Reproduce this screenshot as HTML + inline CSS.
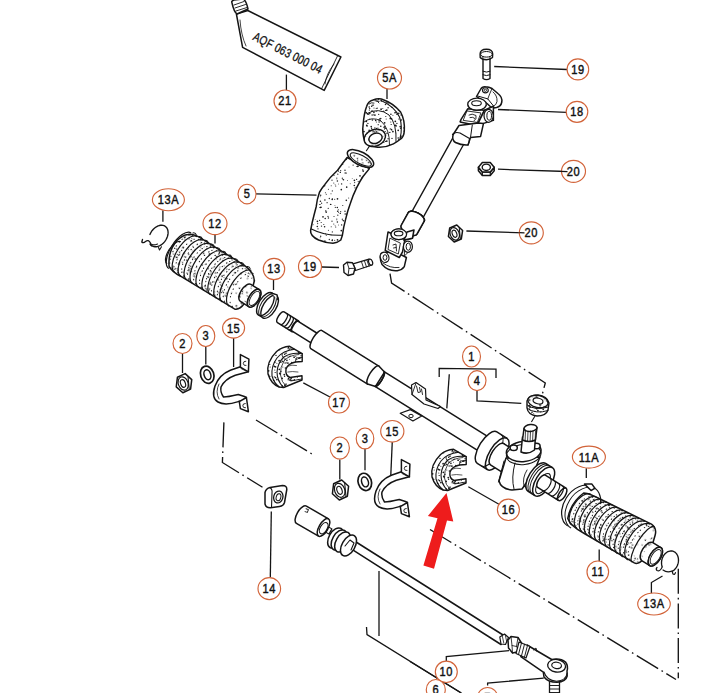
<!DOCTYPE html>
<html><head><meta charset="utf-8"><style>
html,body{margin:0;padding:0;background:#fff;}
svg{display:block;}
text{font-family:"Liberation Sans",sans-serif;fill:#111;}
</style></head><body>
<svg width="712" height="693" viewBox="0 0 712 693">
<defs>
<pattern id="st" width="37" height="41" patternUnits="userSpaceOnUse">
<rect width="37" height="41" fill="#fff"/>
<circle cx="12.0" cy="6.2" r="0.71" fill="#1a1a1a"/><circle cx="2.7" cy="22.0" r="0.60" fill="#1a1a1a"/><circle cx="2.1" cy="20.8" r="0.46" fill="#1a1a1a"/><circle cx="16.0" cy="2.9" r="0.49" fill="#1a1a1a"/><circle cx="15.7" cy="33.9" r="0.50" fill="#1a1a1a"/><circle cx="8.3" cy="25.7" r="0.83" fill="#1a1a1a"/><circle cx="21.4" cy="16.3" r="0.84" fill="#1a1a1a"/><circle cx="1.7" cy="35.2" r="0.57" fill="#1a1a1a"/><circle cx="5.3" cy="4.8" r="0.57" fill="#1a1a1a"/><circle cx="30.2" cy="7.4" r="0.68" fill="#1a1a1a"/><circle cx="23.6" cy="15.3" r="0.67" fill="#1a1a1a"/><circle cx="2.3" cy="2.4" r="0.53" fill="#1a1a1a"/><circle cx="25.2" cy="17.5" r="0.58" fill="#1a1a1a"/><circle cx="21.7" cy="18.6" r="0.57" fill="#1a1a1a"/><circle cx="29.4" cy="28.7" r="0.55" fill="#1a1a1a"/><circle cx="21.3" cy="21.5" r="0.80" fill="#1a1a1a"/><circle cx="27.0" cy="11.8" r="0.84" fill="#1a1a1a"/><circle cx="4.4" cy="17.1" r="0.75" fill="#1a1a1a"/><circle cx="5.6" cy="20.0" r="0.47" fill="#1a1a1a"/><circle cx="24.7" cy="31.3" r="0.68" fill="#1a1a1a"/><circle cx="32.4" cy="12.9" r="0.73" fill="#1a1a1a"/><circle cx="22.0" cy="23.8" r="0.63" fill="#1a1a1a"/><circle cx="31.1" cy="38.7" r="0.64" fill="#1a1a1a"/><circle cx="24.6" cy="2.5" r="0.73" fill="#1a1a1a"/><circle cx="23.9" cy="40.7" r="0.78" fill="#1a1a1a"/><circle cx="10.5" cy="15.8" r="0.72" fill="#1a1a1a"/><circle cx="0.8" cy="18.9" r="0.52" fill="#1a1a1a"/><circle cx="4.3" cy="2.4" r="0.76" fill="#1a1a1a"/><circle cx="4.8" cy="10.2" r="0.61" fill="#1a1a1a"/><circle cx="32.2" cy="3.3" r="0.63" fill="#1a1a1a"/><circle cx="20.3" cy="36.2" r="0.78" fill="#1a1a1a"/><circle cx="32.0" cy="11.4" r="0.62" fill="#1a1a1a"/><circle cx="13.3" cy="36.3" r="0.83" fill="#1a1a1a"/><circle cx="5.6" cy="7.2" r="0.54" fill="#1a1a1a"/><circle cx="8.6" cy="19.9" r="0.69" fill="#1a1a1a"/><circle cx="9.7" cy="0.2" r="0.62" fill="#1a1a1a"/><circle cx="13.7" cy="23.2" r="0.83" fill="#1a1a1a"/><circle cx="25.5" cy="21.1" r="0.70" fill="#1a1a1a"/><circle cx="25.0" cy="2.2" r="0.81" fill="#1a1a1a"/><circle cx="28.9" cy="35.9" r="0.77" fill="#1a1a1a"/><circle cx="14.5" cy="16.4" r="0.49" fill="#1a1a1a"/><circle cx="23.5" cy="2.6" r="0.48" fill="#1a1a1a"/><circle cx="7.7" cy="6.7" r="0.59" fill="#1a1a1a"/><circle cx="1.9" cy="0.0" r="0.51" fill="#1a1a1a"/><circle cx="3.8" cy="14.9" r="0.46" fill="#1a1a1a"/><circle cx="32.4" cy="25.2" r="0.51" fill="#1a1a1a"/><circle cx="9.3" cy="14.2" r="0.60" fill="#1a1a1a"/><circle cx="4.5" cy="34.8" r="0.85" fill="#1a1a1a"/><circle cx="17.2" cy="19.8" r="0.48" fill="#1a1a1a"/><circle cx="3.8" cy="14.0" r="0.56" fill="#1a1a1a"/><circle cx="30.7" cy="6.6" r="0.46" fill="#1a1a1a"/><circle cx="35.2" cy="21.7" r="0.51" fill="#1a1a1a"/><circle cx="20.1" cy="1.1" r="0.66" fill="#1a1a1a"/><circle cx="36.2" cy="35.4" r="0.73" fill="#1a1a1a"/><circle cx="9.7" cy="15.0" r="0.52" fill="#1a1a1a"/><circle cx="28.6" cy="21.8" r="0.76" fill="#1a1a1a"/><circle cx="12.2" cy="9.1" r="0.77" fill="#1a1a1a"/><circle cx="36.4" cy="35.0" r="0.77" fill="#1a1a1a"/><circle cx="30.3" cy="30.3" r="0.54" fill="#1a1a1a"/><circle cx="19.2" cy="14.6" r="0.46" fill="#1a1a1a"/><circle cx="1.0" cy="11.5" r="0.55" fill="#1a1a1a"/><circle cx="25.6" cy="39.2" r="0.63" fill="#1a1a1a"/><circle cx="34.7" cy="40.5" r="0.83" fill="#1a1a1a"/><circle cx="13.5" cy="9.0" r="0.54" fill="#1a1a1a"/><circle cx="7.3" cy="8.4" r="0.70" fill="#1a1a1a"/><circle cx="33.3" cy="34.5" r="0.64" fill="#1a1a1a"/><circle cx="24.2" cy="32.8" r="0.48" fill="#1a1a1a"/><circle cx="24.4" cy="37.3" r="0.76" fill="#1a1a1a"/><circle cx="27.8" cy="19.6" r="0.52" fill="#1a1a1a"/><circle cx="29.2" cy="13.6" r="0.77" fill="#1a1a1a"/><circle cx="36.0" cy="16.2" r="0.61" fill="#1a1a1a"/><circle cx="35.0" cy="29.7" r="0.52" fill="#1a1a1a"/><circle cx="4.7" cy="6.2" r="0.81" fill="#1a1a1a"/><circle cx="29.8" cy="6.0" r="0.78" fill="#1a1a1a"/><circle cx="36.3" cy="26.9" r="0.59" fill="#1a1a1a"/>
</pattern>
<pattern id="st3" width="41" height="43" patternUnits="userSpaceOnUse">
<rect width="41" height="43" fill="#fff"/>
<circle cx="22.5" cy="5.6" r="0.45" fill="#1a1a1a"/><circle cx="39.8" cy="27.9" r="0.63" fill="#1a1a1a"/><circle cx="38.3" cy="18.7" r="0.76" fill="#1a1a1a"/><circle cx="33.9" cy="9.1" r="0.54" fill="#1a1a1a"/><circle cx="12.0" cy="10.3" r="0.66" fill="#1a1a1a"/><circle cx="10.6" cy="18.0" r="0.50" fill="#1a1a1a"/><circle cx="37.3" cy="15.2" r="0.61" fill="#1a1a1a"/><circle cx="23.9" cy="38.9" r="0.60" fill="#1a1a1a"/><circle cx="37.6" cy="21.6" r="0.64" fill="#1a1a1a"/><circle cx="21.5" cy="0.8" r="0.60" fill="#1a1a1a"/><circle cx="7.5" cy="0.2" r="0.73" fill="#1a1a1a"/><circle cx="7.1" cy="20.4" r="0.70" fill="#1a1a1a"/><circle cx="22.8" cy="14.0" r="0.63" fill="#1a1a1a"/><circle cx="22.8" cy="33.7" r="0.49" fill="#1a1a1a"/><circle cx="23.0" cy="10.7" r="0.55" fill="#1a1a1a"/><circle cx="31.7" cy="21.8" r="0.65" fill="#1a1a1a"/><circle cx="31.2" cy="39.2" r="0.61" fill="#1a1a1a"/><circle cx="25.1" cy="21.7" r="0.63" fill="#1a1a1a"/><circle cx="28.4" cy="19.5" r="0.64" fill="#1a1a1a"/><circle cx="19.6" cy="40.5" r="0.69" fill="#1a1a1a"/><circle cx="35.9" cy="40.5" r="0.54" fill="#1a1a1a"/><circle cx="22.9" cy="40.6" r="0.74" fill="#1a1a1a"/><circle cx="5.6" cy="5.2" r="0.60" fill="#1a1a1a"/><circle cx="3.0" cy="10.3" r="0.48" fill="#1a1a1a"/><circle cx="27.4" cy="33.7" r="0.76" fill="#1a1a1a"/><circle cx="6.3" cy="30.8" r="0.68" fill="#1a1a1a"/><circle cx="5.9" cy="38.0" r="0.79" fill="#1a1a1a"/><circle cx="9.0" cy="41.0" r="0.59" fill="#1a1a1a"/><circle cx="20.0" cy="42.6" r="0.74" fill="#1a1a1a"/><circle cx="6.6" cy="18.6" r="0.63" fill="#1a1a1a"/><circle cx="13.9" cy="8.4" r="0.56" fill="#1a1a1a"/><circle cx="29.6" cy="0.8" r="0.64" fill="#1a1a1a"/><circle cx="18.1" cy="0.8" r="0.57" fill="#1a1a1a"/><circle cx="25.6" cy="22.0" r="0.47" fill="#1a1a1a"/><circle cx="40.4" cy="33.9" r="0.79" fill="#1a1a1a"/><circle cx="4.3" cy="11.4" r="0.46" fill="#1a1a1a"/><circle cx="31.9" cy="11.6" r="0.50" fill="#1a1a1a"/><circle cx="17.3" cy="39.2" r="0.74" fill="#1a1a1a"/><circle cx="10.6" cy="6.4" r="0.77" fill="#1a1a1a"/><circle cx="23.4" cy="30.1" r="0.48" fill="#1a1a1a"/>
</pattern>
<pattern id="st2" width="29" height="31" patternUnits="userSpaceOnUse">
<rect width="29" height="31" fill="#fff"/>
<circle cx="1.7" cy="21.3" r="0.67" fill="#1a1a1a"/><circle cx="2.1" cy="29.1" r="0.75" fill="#1a1a1a"/><circle cx="23.2" cy="2.6" r="0.84" fill="#1a1a1a"/><circle cx="1.9" cy="26.7" r="0.68" fill="#1a1a1a"/><circle cx="9.8" cy="17.1" r="0.87" fill="#1a1a1a"/><circle cx="7.8" cy="4.0" r="0.71" fill="#1a1a1a"/><circle cx="6.9" cy="3.4" r="0.56" fill="#1a1a1a"/><circle cx="1.5" cy="6.3" r="0.62" fill="#1a1a1a"/><circle cx="8.8" cy="23.5" r="0.62" fill="#1a1a1a"/><circle cx="14.5" cy="5.5" r="0.64" fill="#1a1a1a"/><circle cx="0.5" cy="7.8" r="0.51" fill="#1a1a1a"/><circle cx="21.3" cy="17.1" r="0.58" fill="#1a1a1a"/><circle cx="13.8" cy="29.0" r="0.54" fill="#1a1a1a"/><circle cx="23.7" cy="13.4" r="0.70" fill="#1a1a1a"/><circle cx="24.2" cy="12.2" r="0.70" fill="#1a1a1a"/><circle cx="19.9" cy="30.5" r="0.64" fill="#1a1a1a"/><circle cx="24.1" cy="21.9" r="0.75" fill="#1a1a1a"/><circle cx="11.7" cy="10.8" r="0.52" fill="#1a1a1a"/><circle cx="3.8" cy="2.2" r="0.80" fill="#1a1a1a"/><circle cx="7.4" cy="5.1" r="0.53" fill="#1a1a1a"/><circle cx="24.4" cy="27.0" r="0.77" fill="#1a1a1a"/><circle cx="8.2" cy="7.5" r="0.62" fill="#1a1a1a"/><circle cx="13.3" cy="4.9" r="0.68" fill="#1a1a1a"/><circle cx="7.6" cy="29.8" r="0.89" fill="#1a1a1a"/><circle cx="15.9" cy="7.6" r="0.89" fill="#1a1a1a"/><circle cx="9.0" cy="11.1" r="0.50" fill="#1a1a1a"/><circle cx="11.1" cy="14.7" r="0.70" fill="#1a1a1a"/><circle cx="5.8" cy="15.6" r="0.50" fill="#1a1a1a"/><circle cx="7.7" cy="2.8" r="0.66" fill="#1a1a1a"/><circle cx="1.2" cy="0.7" r="0.62" fill="#1a1a1a"/><circle cx="6.8" cy="18.2" r="0.71" fill="#1a1a1a"/><circle cx="21.8" cy="20.4" r="0.79" fill="#1a1a1a"/><circle cx="25.5" cy="12.1" r="0.63" fill="#1a1a1a"/><circle cx="28.6" cy="4.6" r="0.79" fill="#1a1a1a"/><circle cx="18.7" cy="1.4" r="0.83" fill="#1a1a1a"/><circle cx="25.9" cy="19.4" r="0.79" fill="#1a1a1a"/><circle cx="23.6" cy="4.3" r="0.71" fill="#1a1a1a"/><circle cx="14.6" cy="25.9" r="0.82" fill="#1a1a1a"/><circle cx="24.0" cy="18.1" r="0.86" fill="#1a1a1a"/><circle cx="19.8" cy="21.5" r="0.59" fill="#1a1a1a"/><circle cx="0.9" cy="4.1" r="0.64" fill="#1a1a1a"/><circle cx="3.0" cy="25.9" r="0.72" fill="#1a1a1a"/><circle cx="18.2" cy="19.4" r="0.77" fill="#1a1a1a"/><circle cx="14.2" cy="0.1" r="0.82" fill="#1a1a1a"/><circle cx="21.7" cy="15.6" r="0.71" fill="#1a1a1a"/><circle cx="19.1" cy="2.0" r="0.79" fill="#1a1a1a"/><circle cx="7.3" cy="2.3" r="0.61" fill="#1a1a1a"/><circle cx="21.2" cy="6.4" r="0.80" fill="#1a1a1a"/><circle cx="28.3" cy="15.3" r="0.65" fill="#1a1a1a"/><circle cx="13.9" cy="21.2" r="0.81" fill="#1a1a1a"/><circle cx="17.9" cy="19.9" r="0.53" fill="#1a1a1a"/><circle cx="4.3" cy="7.9" r="0.80" fill="#1a1a1a"/><circle cx="8.8" cy="17.6" r="0.50" fill="#1a1a1a"/><circle cx="1.8" cy="8.3" r="0.77" fill="#1a1a1a"/><circle cx="20.1" cy="20.9" r="0.62" fill="#1a1a1a"/><circle cx="15.0" cy="14.4" r="0.69" fill="#1a1a1a"/><circle cx="3.4" cy="27.7" r="0.58" fill="#1a1a1a"/><circle cx="28.4" cy="29.0" r="0.51" fill="#1a1a1a"/><circle cx="13.3" cy="25.4" r="0.89" fill="#1a1a1a"/><circle cx="13.0" cy="8.3" r="0.58" fill="#1a1a1a"/><circle cx="27.4" cy="6.5" r="0.73" fill="#1a1a1a"/><circle cx="4.1" cy="16.2" r="0.88" fill="#1a1a1a"/><circle cx="3.8" cy="25.4" r="0.70" fill="#1a1a1a"/><circle cx="25.7" cy="21.8" r="0.59" fill="#1a1a1a"/><circle cx="26.0" cy="15.1" r="0.51" fill="#1a1a1a"/><circle cx="0.1" cy="15.2" r="0.68" fill="#1a1a1a"/><circle cx="8.8" cy="4.4" r="0.64" fill="#1a1a1a"/><circle cx="9.2" cy="26.0" r="0.50" fill="#1a1a1a"/><circle cx="21.8" cy="26.0" r="0.55" fill="#1a1a1a"/><circle cx="26.9" cy="22.1" r="0.86" fill="#1a1a1a"/><circle cx="8.4" cy="11.5" r="0.66" fill="#1a1a1a"/><circle cx="29.0" cy="18.3" r="0.64" fill="#1a1a1a"/><circle cx="12.4" cy="8.5" r="0.52" fill="#1a1a1a"/><circle cx="2.9" cy="25.9" r="0.61" fill="#1a1a1a"/><circle cx="27.1" cy="7.7" r="0.61" fill="#1a1a1a"/><circle cx="14.8" cy="5.9" r="0.65" fill="#1a1a1a"/><circle cx="27.7" cy="27.4" r="0.82" fill="#1a1a1a"/><circle cx="18.3" cy="28.3" r="0.88" fill="#1a1a1a"/><circle cx="15.9" cy="22.3" r="0.52" fill="#1a1a1a"/><circle cx="21.2" cy="14.0" r="0.80" fill="#1a1a1a"/><circle cx="18.7" cy="8.9" r="0.52" fill="#1a1a1a"/><circle cx="26.9" cy="3.9" r="0.69" fill="#1a1a1a"/><circle cx="10.0" cy="9.2" r="0.80" fill="#1a1a1a"/><circle cx="28.3" cy="8.1" r="0.76" fill="#1a1a1a"/><circle cx="8.7" cy="17.3" r="0.66" fill="#1a1a1a"/>
</pattern>
</defs>
<rect width="712" height="693" fill="#fff"/>
<g transform="translate(280.5,317.7) rotate(32)">
<path d="M0,-6.8 A2.52,6.3 0 0 0 0,5.8 L17,5.8 A2.52,6.3 0 0 0 17,-6.8 Z" fill="#fff" stroke="#151515" stroke-width="1.5"/>
<path d="M17,-6.8 A2.52,6.3 0 0 0 17,5.8" fill="none" stroke="#151515" stroke-width="1.5"/>
<path d="M3.2,-6.8 A2.52,6.3 0 0 1 3.2,5.8" fill="none" stroke="#151515" stroke-width="1.3"/>
<path d="M6.6,-6.8 A2.52,6.3 0 0 1 6.6,5.8" fill="none" stroke="#151515" stroke-width="1.3"/>
<path d="M10,-6.8 A2.52,6.3 0 0 1 10,5.8" fill="none" stroke="#151515" stroke-width="1.3"/>
<path d="M13.4,-6.8 A2.52,6.3 0 0 1 13.4,5.8" fill="none" stroke="#151515" stroke-width="1.3"/>
<path d="M17,-6.2 A1.99,5.7 0 0 0 17,5.2 L44,5.2 A1.99,5.7 0 0 0 44,-6.2 Z" fill="#fff" stroke="#151515" stroke-width="1.5"/>
<path d="M42,-11.1 A3.6,10.6 0 0 0 42,10.1 L109,10.1 A3.6,10.6 0 0 0 109,-11.1 Z" fill="#fff" stroke="#151515" stroke-width="1.5"/>
<path d="M109,-11.1 A3.6,10.6 0 0 0 109,10.1" fill="none" stroke="#151515" stroke-width="1.5"/>
<path d="M109,-11.1 L117,-9 L117,8 L109,10.1" fill="#fff" stroke="#151515" stroke-width="1.5" stroke-linejoin="round" stroke-linecap="round"/>
<path d="M116,-9.1 A2.92,8.6 0 0 1 116,8.1 L246,8.1 A2.92,8.6 0 0 0 246,-9.1 Z" fill="#fff" stroke="#151515" stroke-width="1.5"/>
<path d="M116,-9.1 A2.92,8.6 0 0 1 116,8.1" fill="none" stroke="#151515" stroke-width="1.5"/>
</g>
<path d="M411.5,385 L416,382.5 L425.5,389 L426,400 L440.5,406.5 L438,408.5 L424,404 L412,394.5 Z" fill="#fff" stroke="#151515" stroke-width="1.2" stroke-linejoin="round" stroke-linecap="round"/>
<path d="M416.5,386 L418,392.5 L420.5,392 L419.5,387.5 M421.5,389 L422.5,394.5 M412,394.5 L416,383" fill="none" stroke="#151515" stroke-width="0.9" stroke-linejoin="round" stroke-linecap="round"/>
<path d="M400.2,413.3 L410.3,409.6 L421.7,415.9 L412.9,421 Z" fill="#fff" stroke="#151515" stroke-width="1.2" stroke-linejoin="round" stroke-linecap="round"/>
<ellipse cx="411" cy="416" rx="2.2" ry="1.7" fill="none" stroke="#151515" stroke-width="1.0"/>
<g transform="translate(282.5,320.7) rotate(32)">
<path d="M-126,-23 Q-122,-26.7 -114,-26.7 L-62,-26.7 Q-50,-26 -45,-19 Q-41,-8 -41.5,6 Q-42,14 -47,15.5 L-110,16.3 Q-120,17 -125,14 Q-134,2 -132,-12 Q-130,-20 -126,-23 Z" fill="url(#st)" stroke="#151515" stroke-width="1.5" stroke-linejoin="round" stroke-linecap="round"/>
<path d="M-121,-24.5 A8.78,19.5 0 0 0 -121,14.5" fill="none" stroke="#1a1a1a" stroke-width="1.0" stroke-dasharray="0.5,3.1,0.6,4.6,0.5,2.4" stroke-linecap="round"/>
<path d="M-124,-26 A9.45,21 0 0 0 -124,16" fill="none" stroke="#151515" stroke-width="1.2"/>
<path d="M-114,-24.5 A8.78,19.5 0 0 0 -114,14.5" fill="none" stroke="#1a1a1a" stroke-width="1.0" stroke-dasharray="0.6,4.1,0.5,2.7,0.6,5" stroke-linecap="round"/>
<path d="M-117,-26 A9.45,21 0 0 0 -117,16" fill="none" stroke="#151515" stroke-width="1.2"/>
<path d="M-107,-24.5 A8.78,19.5 0 0 0 -107,14.5" fill="none" stroke="#1a1a1a" stroke-width="1.0" stroke-dasharray="0.5,2.6,0.6,3.9,0.5,4.4" stroke-linecap="round"/>
<path d="M-110,-26 A9.45,21 0 0 0 -110,16" fill="none" stroke="#151515" stroke-width="1.2"/>
<path d="M-100,-24.5 A8.78,19.5 0 0 0 -100,14.5" fill="none" stroke="#1a1a1a" stroke-width="1.0" stroke-dasharray="0.5,3.1,0.6,4.6,0.5,2.4" stroke-linecap="round"/>
<path d="M-103,-26 A9.45,21 0 0 0 -103,16" fill="none" stroke="#151515" stroke-width="1.2"/>
<path d="M-93,-24.5 A8.78,19.5 0 0 0 -93,14.5" fill="none" stroke="#1a1a1a" stroke-width="1.0" stroke-dasharray="0.6,4.1,0.5,2.7,0.6,5" stroke-linecap="round"/>
<path d="M-96,-26 A9.45,21 0 0 0 -96,16" fill="none" stroke="#151515" stroke-width="1.2"/>
<path d="M-86,-24.5 A8.78,19.5 0 0 0 -86,14.5" fill="none" stroke="#1a1a1a" stroke-width="1.0" stroke-dasharray="0.5,2.6,0.6,3.9,0.5,4.4" stroke-linecap="round"/>
<path d="M-89,-26 A9.45,21 0 0 0 -89,16" fill="none" stroke="#151515" stroke-width="1.2"/>
<path d="M-79,-24.5 A8.78,19.5 0 0 0 -79,14.5" fill="none" stroke="#1a1a1a" stroke-width="1.0" stroke-dasharray="0.5,3.1,0.6,4.6,0.5,2.4" stroke-linecap="round"/>
<path d="M-82,-26 A9.45,21 0 0 0 -82,16" fill="none" stroke="#151515" stroke-width="1.2"/>
<path d="M-72,-24.5 A8.78,19.5 0 0 0 -72,14.5" fill="none" stroke="#1a1a1a" stroke-width="1.0" stroke-dasharray="0.6,4.1,0.5,2.7,0.6,5" stroke-linecap="round"/>
<path d="M-75,-26 A9.45,21 0 0 0 -75,16" fill="none" stroke="#151515" stroke-width="1.2"/>
<path d="M-65,-24.5 A8.78,19.5 0 0 0 -65,14.5" fill="none" stroke="#1a1a1a" stroke-width="1.0" stroke-dasharray="0.5,2.6,0.6,3.9,0.5,4.4" stroke-linecap="round"/>
<path d="M-68,-26 A9.45,21 0 0 0 -68,16" fill="none" stroke="#151515" stroke-width="1.2"/>
<path d="M-58,-24.5 A8.78,19.5 0 0 0 -58,14.5" fill="none" stroke="#1a1a1a" stroke-width="1.0" stroke-dasharray="0.5,3.1,0.6,4.6,0.5,2.4" stroke-linecap="round"/>
<path d="M-61,-26 A9.45,21 0 0 0 -61,16" fill="none" stroke="#151515" stroke-width="1.2"/>
<path d="M-50,-24.5 A8.78,19.5 0 0 0 -50,14.5" fill="none" stroke="#1a1a1a" stroke-width="1.0" stroke-dasharray="0.6,4.1,0.5,2.7,0.6,5" stroke-linecap="round"/>
<path d="M-53,-26 A9.45,21 0 0 0 -53,16" fill="none" stroke="#151515" stroke-width="1.2"/>
<path d="M-122.5,-27 Q-120.5,-28.8 -118.5,-27" fill="none" stroke="#151515" stroke-width="1.0" stroke-linejoin="round" stroke-linecap="round"/>
<path d="M-115.5,-27 Q-113.5,-28.8 -111.5,-27" fill="none" stroke="#151515" stroke-width="1.0" stroke-linejoin="round" stroke-linecap="round"/>
<path d="M-108.5,-27 Q-106.5,-28.8 -104.5,-27" fill="none" stroke="#151515" stroke-width="1.0" stroke-linejoin="round" stroke-linecap="round"/>
<path d="M-101.5,-27 Q-99.5,-28.8 -97.5,-27" fill="none" stroke="#151515" stroke-width="1.0" stroke-linejoin="round" stroke-linecap="round"/>
<path d="M-94.5,-27 Q-92.5,-28.8 -90.5,-27" fill="none" stroke="#151515" stroke-width="1.0" stroke-linejoin="round" stroke-linecap="round"/>
<path d="M-87.5,-27 Q-85.5,-28.8 -83.5,-27" fill="none" stroke="#151515" stroke-width="1.0" stroke-linejoin="round" stroke-linecap="round"/>
<path d="M-80.5,-27 Q-78.5,-28.8 -76.5,-27" fill="none" stroke="#151515" stroke-width="1.0" stroke-linejoin="round" stroke-linecap="round"/>
<path d="M-73.5,-27 Q-71.5,-28.8 -69.5,-27" fill="none" stroke="#151515" stroke-width="1.0" stroke-linejoin="round" stroke-linecap="round"/>
<path d="M-66.5,-27 Q-64.5,-28.8 -62.5,-27" fill="none" stroke="#151515" stroke-width="1.0" stroke-linejoin="round" stroke-linecap="round"/>
<path d="M-59,-27 Q-57,-28.8 -55,-27" fill="none" stroke="#151515" stroke-width="1.0" stroke-linejoin="round" stroke-linecap="round"/>
<path d="M-128,-13 A5.85,13 0 0 0 -128,13" fill="none" stroke="#151515" stroke-width="1.2"/>
<path d="M-46,-14 A5,10 0 0 0 -46,6 L-36,6 A5,10 0 0 0 -36,-14 Z" fill="url(#st)" stroke="#151515" stroke-width="1.5"/>
<path d="M-36,-14 A5,10 0 0 0 -36,6" fill="none" stroke="#151515" stroke-width="1.5"/>
<ellipse cx="-36" cy="-4" rx="5" ry="10" fill="#fff" stroke="#151515" stroke-width="1.5"/>
<ellipse cx="-35.6" cy="-4" rx="3.8" ry="8" fill="none" stroke="#151515" stroke-width="0.9"/>
</g>
<g transform="translate(280.5,317.7) rotate(32)">
<ellipse cx="-20" cy="-3.5" rx="6.5" ry="13" fill="none" stroke="#151515" stroke-width="1.4"/>
<ellipse cx="-17.5" cy="-3.5" rx="6.5" ry="13" fill="none" stroke="#151515" stroke-width="1.0"/>
<ellipse cx="-15" cy="-3.5" rx="6.5" ry="13" fill="none" stroke="#151515" stroke-width="1.4"/>
<path d="M-21,-16 L-15,-17.5 L-12,-14" fill="#fff" stroke="#151515" stroke-width="1.5" stroke-linejoin="round" stroke-linecap="round"/>
</g>
<g transform="translate(280.5,317.7) rotate(32)">
<path d="M244,-17.8 A7.77,18.5 0 0 0 244,19.2 L256,19.2 A7.77,18.5 0 0 0 256,-17.8 Z" fill="#fff" stroke="#151515" stroke-width="1.5"/>
<path d="M256,-17.8 A7.77,18.5 0 0 0 256,19.2" fill="none" stroke="#151515" stroke-width="1.5"/>
<path d="M249,-17.8 A7.77,18.5 0 0 1 249,19.2" fill="none" stroke="#151515" stroke-width="1.0"/>
<ellipse cx="256" cy="0.7" rx="5" ry="12.5" fill="none" stroke="#151515" stroke-width="1.0"/>
<path d="M256,-11.5 A5.25,12.5 0 0 0 256,13.5 L300,13.5 A5.25,12.5 0 0 0 300,-11.5 Z" fill="#fff" stroke="#151515" stroke-width="1.5"/>
</g>
<path d="M506,458 L499,481 Q501,489 512,490 L522,489 L534,472 L540,457 Z" fill="#fff" stroke="#151515" stroke-width="1.5" stroke-linejoin="round" stroke-linecap="round"/>
<path d="M504,461 L498.5,482" fill="none" stroke="#151515" stroke-width="1.0" stroke-linejoin="round" stroke-linecap="round"/>
<path d="M515,463 Q511,478 514,489" fill="none" stroke="#151515" stroke-width="1.0" stroke-linejoin="round" stroke-linecap="round"/>
<path d="M527,470 Q522,478 524,486" fill="none" stroke="#151515" stroke-width="0.9" stroke-linejoin="round" stroke-linecap="round"/>
<ellipse cx="523.7" cy="451.5" rx="17.4" ry="10" fill="#fff" stroke="#151515" stroke-width="1.5" transform="rotate(-6 523.7 451.5)"/>
<ellipse cx="523.7" cy="454.5" rx="17.4" ry="10" fill="none" stroke="#151515" stroke-width="1.0" transform="rotate(-6 523.7 454.5)"/>
<ellipse cx="513.7" cy="447.8" rx="3.6" ry="2.8" fill="#fff" stroke="#151515" stroke-width="1.5"/>
<ellipse cx="536.5" cy="446" rx="3.6" ry="2.8" fill="#fff" stroke="#151515" stroke-width="1.5"/>
<path d="M521,452 L522.5,437 L535.5,436 L534.5,450 Q528,455 521,452 Z" fill="#fff" stroke="#151515" stroke-width="1.5" stroke-linejoin="round" stroke-linecap="round"/>
<path d="M522.5,440 L524,428.5 L537,427.5 L535.5,440 Q529,443 522.5,440 Z" fill="#fff" stroke="#151515" stroke-width="1.5" stroke-linejoin="round" stroke-linecap="round"/>
<ellipse cx="530.5" cy="428" rx="6.5" ry="3.4" fill="#fff" stroke="#151515" stroke-width="1.5" transform="rotate(-6 530.5 428)"/>
<path d="M525.5,431 L525.1,441" fill="none" stroke="#151515" stroke-width="0.8" stroke-linejoin="round" stroke-linecap="round"/>
<path d="M528,431 L527.6,441" fill="none" stroke="#151515" stroke-width="0.8" stroke-linejoin="round" stroke-linecap="round"/>
<path d="M530.5,431 L530.1,441" fill="none" stroke="#151515" stroke-width="0.8" stroke-linejoin="round" stroke-linecap="round"/>
<path d="M533,431 L532.6,441" fill="none" stroke="#151515" stroke-width="0.8" stroke-linejoin="round" stroke-linecap="round"/>
<path d="M535.5,431 L535.1,441" fill="none" stroke="#151515" stroke-width="0.8" stroke-linejoin="round" stroke-linecap="round"/>
<g transform="translate(280.5,317.7) rotate(32)">
<path d="M302,-17 A7.92,16.5 0 0 0 302,16 L310,16 A7.92,16.5 0 0 0 310,-17 Z" fill="#fff" stroke="#151515" stroke-width="1.5"/>
<path d="M310,-17 A7.92,16.5 0 0 0 310,16" fill="none" stroke="#151515" stroke-width="1.5"/>
<path d="M304.5,-17 A7.92,16.5 0 0 0 304.5,16" fill="none" stroke="#151515" stroke-width="1.0"/>
<path d="M306.8,-17 A7.92,16.5 0 0 0 306.8,16" fill="none" stroke="#151515" stroke-width="1.0"/>
<ellipse cx="310.5" cy="1.5" rx="5" ry="11.5" fill="none" stroke="#151515" stroke-width="1.0"/>
<path d="M308,-6.7 A3.24,7.2 0 0 0 308,7.7 L332.5,7.7 A3.24,7.2 0 0 0 332.5,-6.7 Z" fill="#fff" stroke="#151515" stroke-width="1.5"/>
<path d="M332.5,-6.7 A3.24,7.2 0 0 0 332.5,7.7" fill="none" stroke="#151515" stroke-width="1.5"/>
<path d="M314,-6.7 A3.24,7.2 0 0 1 314,7.7" fill="none" stroke="#151515" stroke-width="1.15"/>
<path d="M319,-6.7 A3.24,7.2 0 0 1 319,7.7" fill="none" stroke="#151515" stroke-width="1.15"/>
<path d="M324,-6.7 A3.24,7.2 0 0 1 324,7.7" fill="none" stroke="#151515" stroke-width="1.15"/>
<path d="M328.5,-6.7 A3.24,7.2 0 0 1 328.5,7.7" fill="none" stroke="#151515" stroke-width="1.15"/>
</g>
<g transform="translate(280.5,317.7) rotate(32)">
<path d="M350,-12 Q356,-15 366,-15.5 L424,-21.5 Q431,-21 433,-14 Q437,-2 436,10 Q435,20 430,20.5 L372,22 Q356,23 350,18 Q344,3 350,-12 Z" fill="url(#st)" stroke="#151515" stroke-width="1.5" stroke-linejoin="round" stroke-linecap="round"/>
<path d="M360,-13.14 A8.29,16.57 0 0 0 360,20" fill="none" stroke="#1a1a1a" stroke-width="1.0" stroke-dasharray="0.5,3.1,0.6,4.6,0.5,2.4" stroke-linecap="round"/>
<path d="M357,-14.64 A9.04,18.07 0 0 0 357,21.5" fill="none" stroke="#151515" stroke-width="1.2"/>
<path d="M366,-13.7 A8.42,16.85 0 0 0 366,20" fill="none" stroke="#1a1a1a" stroke-width="1.0" stroke-dasharray="0.6,4.1,0.5,2.7,0.6,5" stroke-linecap="round"/>
<path d="M363,-15.2 A9.17,18.35 0 0 0 363,21.5" fill="none" stroke="#151515" stroke-width="1.2"/>
<path d="M372,-14.25 A8.56,17.12 0 0 0 372,20" fill="none" stroke="#1a1a1a" stroke-width="1.0" stroke-dasharray="0.5,2.6,0.6,3.9,0.5,4.4" stroke-linecap="round"/>
<path d="M369,-15.75 A9.31,18.62 0 0 0 369,21.5" fill="none" stroke="#151515" stroke-width="1.2"/>
<path d="M378,-14.8 A8.7,17.4 0 0 0 378,20" fill="none" stroke="#1a1a1a" stroke-width="1.0" stroke-dasharray="0.5,3.1,0.6,4.6,0.5,2.4" stroke-linecap="round"/>
<path d="M375,-16.3 A9.45,18.9 0 0 0 375,21.5" fill="none" stroke="#151515" stroke-width="1.2"/>
<path d="M384,-15.36 A8.84,17.68 0 0 0 384,20" fill="none" stroke="#1a1a1a" stroke-width="1.0" stroke-dasharray="0.6,4.1,0.5,2.7,0.6,5" stroke-linecap="round"/>
<path d="M381,-16.86 A9.59,19.18 0 0 0 381,21.5" fill="none" stroke="#151515" stroke-width="1.2"/>
<path d="M390,-15.91 A8.98,17.95 0 0 0 390,20" fill="none" stroke="#1a1a1a" stroke-width="1.0" stroke-dasharray="0.5,2.6,0.6,3.9,0.5,4.4" stroke-linecap="round"/>
<path d="M387,-17.41 A9.73,19.45 0 0 0 387,21.5" fill="none" stroke="#151515" stroke-width="1.2"/>
<path d="M396,-16.46 A9.12,18.23 0 0 0 396,20" fill="none" stroke="#1a1a1a" stroke-width="1.0" stroke-dasharray="0.5,3.1,0.6,4.6,0.5,2.4" stroke-linecap="round"/>
<path d="M393,-17.96 A9.87,19.73 0 0 0 393,21.5" fill="none" stroke="#151515" stroke-width="1.2"/>
<path d="M402,-17.01 A9.25,18.51 0 0 0 402,20" fill="none" stroke="#1a1a1a" stroke-width="1.0" stroke-dasharray="0.6,4.1,0.5,2.7,0.6,5" stroke-linecap="round"/>
<path d="M399,-18.51 A10,20.01 0 0 0 399,21.5" fill="none" stroke="#151515" stroke-width="1.2"/>
<path d="M408,-17.57 A9.39,18.78 0 0 0 408,20" fill="none" stroke="#1a1a1a" stroke-width="1.0" stroke-dasharray="0.5,2.6,0.6,3.9,0.5,4.4" stroke-linecap="round"/>
<path d="M405,-19.07 A10.14,20.28 0 0 0 405,21.5" fill="none" stroke="#151515" stroke-width="1.2"/>
<path d="M414,-18.12 A9.53,19.06 0 0 0 414,20" fill="none" stroke="#1a1a1a" stroke-width="1.0" stroke-dasharray="0.5,3.1,0.6,4.6,0.5,2.4" stroke-linecap="round"/>
<path d="M411,-19.62 A10.28,20.56 0 0 0 411,21.5" fill="none" stroke="#151515" stroke-width="1.2"/>
<path d="M420,-18.67 A9.67,19.34 0 0 0 420,20" fill="none" stroke="#1a1a1a" stroke-width="1.0" stroke-dasharray="0.6,4.1,0.5,2.7,0.6,5" stroke-linecap="round"/>
<path d="M417,-20.17 A10.42,20.84 0 0 0 417,21.5" fill="none" stroke="#151515" stroke-width="1.2"/>
<path d="M426,-19.22 A9.81,19.61 0 0 0 426,20" fill="none" stroke="#1a1a1a" stroke-width="1.0" stroke-dasharray="0.5,2.6,0.6,3.9,0.5,4.4" stroke-linecap="round"/>
<path d="M423,-20.72 A10.56,21.11 0 0 0 423,21.5" fill="none" stroke="#151515" stroke-width="1.2"/>
<path d="M428,-21 A6.3,21 0 0 0 428,21" fill="none" stroke="#151515" stroke-width="1.2"/>
<path d="M435,-6.5 A5.25,10.5 0 0 0 435,14.5 L444.5,14.5 A5.25,10.5 0 0 0 444.5,-6.5 Z" fill="url(#st3)" stroke="#151515" stroke-width="1.5"/>
<path d="M444.5,-6.5 A5.25,10.5 0 0 0 444.5,14.5" fill="none" stroke="#151515" stroke-width="1.5"/>
<ellipse cx="444.5" cy="4" rx="5.3" ry="10.5" fill="#fff" stroke="#151515" stroke-width="1.5"/>
<ellipse cx="444.9" cy="4" rx="4" ry="8.3" fill="none" stroke="#151515" stroke-width="0.9"/>
<path d="M354,-21.5 A16.1,23 0 0 0 354,24.5" fill="none" stroke="#151515" stroke-width="1.25"/>
<path d="M358,-21.5 A16.1,23 0 0 0 358,24.5" fill="none" stroke="#151515" stroke-width="1.0"/>
<path d="M354,-21.5 A16.1,23 0 0 1 370,-12" fill="none" stroke="#151515" stroke-width="1.1" stroke-linejoin="round" stroke-linecap="round"/>
<path d="M346,-20 L352,-24 L357,-22 L355,-18 Z" fill="#fff" stroke="#151515" stroke-width="1.5" stroke-linejoin="round" stroke-linecap="round"/>
</g>
<path d="M662.08,566.50 L661.77,565.35 L661.58,564.14 L661.52,562.90 L661.57,561.64 L661.75,560.38 L662.05,559.13 L662.45,557.91 L662.97,556.75 L663.59,555.66 L664.30,554.65 L665.10,553.73 L665.96,552.93 L666.88,552.26 L667.85,551.71 L668.85,551.31 L669.86,551.05 L670.88,550.95 L671.88,550.99 L672.86,551.19 L673.79,551.53 L674.67,552.02 L675.49,552.65 L676.22,553.40 L676.87,554.27 L677.41,555.24 L677.85,556.30 L678.18,557.44 L678.39,558.63 L678.48,559.87 L678.45,561.13 L678.29,562.40 L678.02,563.65 L677.63,564.87 L677.13,566.04 L676.53,567.15 L675.83,568.18 L675.05,569.11 L674.20,569.93 L673.29,570.63 L672.33,571.20" fill="none" stroke="#151515" stroke-width="1.35" stroke-linejoin="round" stroke-linecap="round"/>
<path d="M662.2,567 Q660,572 657,570.5 Q655.5,569 657,567.5 M663,570 Q667,573 672,571 L673,574 Q675,575 675.5,572.5" fill="none" stroke="#151515" stroke-width="1.2" stroke-linejoin="round" stroke-linecap="round"/>
<path d="M149.94,234.46 L150.59,233.07 L151.37,231.73 L152.28,230.46 L153.30,229.29 L154.41,228.24 L155.59,227.32 L156.82,226.55 L158.08,225.95 L159.34,225.53 L160.60,225.28 L161.81,225.23 L162.97,225.36 L164.05,225.68 L165.03,226.18 L165.90,226.85 L166.64,227.68 L167.24,228.65 L167.68,229.75 L167.97,230.97 L168.09,232.27 L168.04,233.63 L167.83,235.04 L167.45,236.46 L166.92,237.87 L166.24,239.26 L165.42,240.58 L164.49,241.83 L163.45,242.97 L162.32,243.99 L161.12,244.88 L159.89,245.60 L158.62,246.16 L157.36,246.55 L156.11,246.75 L154.91,246.76 L153.77,246.58 L152.71,246.22 L151.75,245.68 L150.91,244.97 L150.20,244.10" fill="none" stroke="#151515" stroke-width="1.35" stroke-linejoin="round" stroke-linecap="round"/>
<path d="M150.20,244.10 Q153,248 150.5,243 Q148.5,239 145.5,241.5 Q143,243.5 141.8,242 L142.5,239.5" fill="none" stroke="#151515" stroke-width="1.3" stroke-linejoin="round" stroke-linecap="round"/>
<path d="M157.5,244 Q154,245.5 152,244.5" fill="none" stroke="#151515" stroke-width="1.2" stroke-linejoin="round" stroke-linecap="round"/>
<path d="M158.5,247.5 L159.5,250 L161.5,246.8" fill="none" stroke="#151515" stroke-width="1.1" stroke-linejoin="round" stroke-linecap="round"/>
<path d="M236.4,14 L247.8,10.5 L340.9,57 L324.2,90.4 L242.6,47.4 Z" fill="#fff" stroke="#151515" stroke-width="1.5" stroke-linejoin="round" stroke-linecap="round"/>
<path d="M232,3 Q231,1 234,0 L243,-1 Q246,0 248,9 L237,14 Q234,12 232,3 Z" fill="#fff" stroke="#151515" stroke-width="1.5" stroke-linejoin="round" stroke-linecap="round"/>
<path d="M234,5 L244,1.5 M235,8 L245.5,4.5 M236,11 L247,7.5" fill="none" stroke="#151515" stroke-width="0.9" stroke-linejoin="round" stroke-linecap="round"/>
<path d="M337.4,56.2 L321.6,88.7" fill="none" stroke="#151515" stroke-width="0.9" stroke-linejoin="round" stroke-linecap="round"/>
<path d="M334,64 Q326,74 325,84" fill="none" stroke="#151515" stroke-width="0.8" stroke-linejoin="round" stroke-linecap="round"/>
<path d="M240,20 Q241,35 246,46" fill="none" stroke="#151515" stroke-width="0.8" stroke-linejoin="round" stroke-linecap="round"/>
<text transform="translate(252,39.5) rotate(27) scale(0.8,1)" font-size="12.5" fill="#111" stroke="#111" stroke-width="0.3" letter-spacing="0.25" style="font-family:'Liberation Sans',sans-serif">AQF 063 000 04</text>
<path d="M366.7,106.2 Q368,101.5 373,100 Q379,97.5 383.3,99.7 Q393,103 400.6,112 Q405,120 404.3,130.8 Q404,137 400.6,139 Q397,142 393.4,143.8 Q385,148 376,147 Q368,146 364.5,140.9 Q362,132 363.1,125 Q364,113 366.7,106.2 Z" fill="url(#st2)" stroke="#151515" stroke-width="1.5" stroke-linejoin="round" stroke-linecap="round"/>
<path d="M381,100.5 Q394,106 399.5,117 Q403,127 400,138.5" fill="none" stroke="#151515" stroke-width="1.1" stroke-linejoin="round" stroke-linecap="round"/>
<path d="M367,113.5 Q379,107 389,115 Q397,124 396,141.5" fill="none" stroke="#151515" stroke-width="1.0" stroke-linejoin="round" stroke-linecap="round"/>
<path d="M364,122 Q372,116 381,121 Q390,129 389.5,145" fill="none" stroke="#151515" stroke-width="0.9" stroke-linejoin="round" stroke-linecap="round"/>
<path d="M369,104 Q371,102 374,103 M377,101 L379,103 M366.5,113 L369,114.5" fill="none" stroke="#151515" stroke-width="0.9" stroke-linejoin="round" stroke-linecap="round"/>
<ellipse cx="374.8" cy="137.8" rx="11" ry="8.3" fill="url(#st2)" stroke="#151515" stroke-width="1.4" transform="rotate(-20 374.8 137.8)"/>
<ellipse cx="375.5" cy="138.3" rx="6.8" ry="5" fill="#fff" stroke="#151515" stroke-width="1.4" transform="rotate(-20 375.5 138.3)"/>
<path d="M369.8,145.6 L366.4,150.7" fill="none" stroke="#151515" stroke-width="1.1" stroke-linejoin="round" stroke-linecap="round"/>
<path d="M347.1,157.5 Q342,164 337.6,170.2 Q330,177 324.9,184.4 Q321,189 319.4,192.4 Q317,199 316.2,206.7 Q314,215 312.2,222.5 L310.6,230.5 Q310,236 318.6,240 Q326,243 332.9,243.2 Q338,242.5 340.8,240 L342.4,235.2 Q343.5,227 345.6,219.4 Q347.5,211 350.3,203.5 Q353,195 356.7,187.6 Q360,181 363,176.5 L369.4,168.6 Z" fill="url(#st)" stroke="#151515" stroke-width="1.5" stroke-linejoin="round" stroke-linecap="round"/>
<path d="M311.4,228.9 Q325,236 342.4,235.2" fill="none" stroke="#151515" stroke-width="1.1" stroke-linejoin="round" stroke-linecap="round"/>
<ellipse cx="360.5" cy="158.5" rx="14.5" ry="6.5" fill="#fff" stroke="#151515" stroke-width="1.5" transform="rotate(28 360.5 158.5)"/>
<ellipse cx="360.8" cy="159.5" rx="11.8" ry="4.3" fill="url(#st)" stroke="#151515" stroke-width="1.0" transform="rotate(28 360.8 159.5)"/>
<g transform="translate(413.4,222) rotate(-61)">
<path d="M4,-6.3 L93,-6.3 L93,6.3 L4,6.3 Z" fill="#fff" stroke="none"/>
<path d="M4,-6.3 L93,-6.3 M4,6.3 L93,6.3" fill="none" stroke="#151515" stroke-width="1.35" stroke-linejoin="round" stroke-linecap="round"/>
<path d="M-9,-9 A4.05,9 0 0 0 -9,9 L6,9 A4.05,9 0 0 0 6,-9 Z" fill="#fff" stroke="#151515" stroke-width="1.5"/>
<path d="M6,-9 A4,9 0 0 1 6,9" fill="none" stroke="#151515" stroke-width="1.2" stroke-linejoin="round" stroke-linecap="round"/>
</g>
<path d="M476.5,96.5 L480.5,89.5 Q482,86.5 485.5,86.8 Q489,87 492,88.5 L497.9,93.5 Q502.5,97 501.8,102 Q501,106.5 496.5,107.5 L492.2,108.2 L487,103.5 Z" fill="#fff" stroke="#151515" stroke-width="1.5" stroke-linejoin="round" stroke-linecap="round"/>
<ellipse cx="485.4" cy="90.3" rx="2.9" ry="2.6" fill="#fff" stroke="#151515" stroke-width="1.1"/>
<ellipse cx="485.4" cy="90.3" rx="1.2" ry="1.1" fill="none" stroke="#151515" stroke-width="0.9"/>
<path d="M477.7,96 L487.8,98.9 L493.6,106.1" fill="none" stroke="#151515" stroke-width="1.0" stroke-linejoin="round" stroke-linecap="round"/>
<path d="M487.8,98.9 Q489.5,94 492,88.5" fill="none" stroke="#151515" stroke-width="0.9" stroke-linejoin="round" stroke-linecap="round"/>
<path d="M493,92 Q497.5,95.5 497,101.5 Q496.5,105 493.6,106.1" fill="none" stroke="#151515" stroke-width="0.9" stroke-linejoin="round" stroke-linecap="round"/>
<path d="M467.7,108.8 L461.1,119.4 L460.1,121.9 L474.3,124.9 L478.3,122.9 L484.4,110.3 Z" fill="#fff" stroke="#151515" stroke-width="1.5" stroke-linejoin="round" stroke-linecap="round"/>
<path d="M466.7,111.3 L463.2,120.4 L477.3,122.4 L480.8,113.3 Z" fill="none" stroke="#151515" stroke-width="0.9" stroke-linejoin="round" stroke-linecap="round"/>
<path d="M469,115 Q472,113 476,115.5 Q477,119 474,121 M470,117.5 Q473,116.5 475,118.5" fill="none" stroke="#151515" stroke-width="0.9" stroke-linejoin="round" stroke-linecap="round"/>
<path d="M472.3,124.4 L478.3,122.9 L484.4,110.3 L493.4,106.2 L493.4,120.4 L483.5,123.4 Z" fill="#fff" stroke="#151515" stroke-width="1.5" stroke-linejoin="round" stroke-linecap="round"/>
<ellipse cx="477" cy="104.2" rx="9.3" ry="6" fill="#fff" stroke="#151515" stroke-width="1.25"/>
<ellipse cx="476.5" cy="103.2" rx="4.8" ry="2.5" fill="none" stroke="#151515" stroke-width="1.1"/>
<path d="M467.8,105 Q468,109.5 476,110.4 Q484,110.5 486.4,105.5" fill="none" stroke="#151515" stroke-width="1.0" stroke-linejoin="round" stroke-linecap="round"/>
<ellipse cx="488.6" cy="115.8" rx="4.6" ry="6.5" fill="#fff" stroke="#151515" stroke-width="1.2"/>
<ellipse cx="489.2" cy="115.8" rx="2.3" ry="4.4" fill="none" stroke="#151515" stroke-width="1.0"/>
<path d="M459,125.5 L453.2,134.5 Q451.5,140 455.5,142.5 Q461.5,145.5 468,145 L470.5,137.5 L480.6,136.4 L483.5,123.4 L478.3,122.9 Z" fill="#fff" stroke="#151515" stroke-width="1.5" stroke-linejoin="round" stroke-linecap="round"/>
<path d="M452.5,134.5 Q455,131.5 460,133 L469.5,138.5 Q469.5,142 468,145" fill="none" stroke="#151515" stroke-width="1.2" stroke-linejoin="round" stroke-linecap="round"/>
<path d="M470.5,137.5 L472.3,125" fill="none" stroke="#151515" stroke-width="1.0" stroke-linejoin="round" stroke-linecap="round"/>
<path d="M381.1,253.5 Q379,258 382.1,264.6 Q388,271.5 397.3,270.7 Q402,270 404.3,266.6 L406.4,257.5 L394,251 Z" fill="#fff" stroke="#151515" stroke-width="1.5" stroke-linejoin="round" stroke-linecap="round"/>
<ellipse cx="384.6" cy="257.3" rx="4.2" ry="5.2" fill="#fff" stroke="#151515" stroke-width="1.2" transform="rotate(-20 384.6 257.3)"/>
<ellipse cx="385" cy="257.5" rx="1.9" ry="2.8" fill="none" stroke="#151515" stroke-width="1.0"/>
<path d="M383,263 Q390,268.5 399,267.5" fill="none" stroke="#151515" stroke-width="0.9" stroke-linejoin="round" stroke-linecap="round"/>
<path d="M388,232 L385.2,250.5 L399.3,257.5 L402.5,252 L405,239 Z" fill="#fff" stroke="#151515" stroke-width="1.5" stroke-linejoin="round" stroke-linecap="round"/>
<path d="M389.8,238.5 L388,249.5 L398.3,254 L400.3,243.5 Z" fill="none" stroke="#151515" stroke-width="0.9" stroke-linejoin="round" stroke-linecap="round"/>
<path d="M393,245 L396,244 L396.5,251 M393.5,248 L396,247.5" fill="none" stroke="#151515" stroke-width="0.9" stroke-linejoin="round" stroke-linecap="round"/>
<path d="M404,240 L412.4,238.3 L414,230 L407,232 Z" fill="#fff" stroke="#151515" stroke-width="1.5" stroke-linejoin="round" stroke-linecap="round"/>
<path d="M405,242 L404.3,256 L408,252.5" fill="none" stroke="#151515" stroke-width="0.9" stroke-linejoin="round" stroke-linecap="round"/>
<ellipse cx="407.9" cy="246.7" rx="4.5" ry="5.6" fill="#fff" stroke="#151515" stroke-width="1.2"/>
<ellipse cx="408.3" cy="246.7" rx="2.2" ry="3.6" fill="none" stroke="#151515" stroke-width="1.0"/>
<ellipse cx="398.8" cy="234.2" rx="7.8" ry="5.3" fill="#fff" stroke="#151515" stroke-width="1.25"/>
<ellipse cx="398.6" cy="233.4" rx="4.3" ry="2.3" fill="none" stroke="#151515" stroke-width="1.1"/>
<g transform="translate(413.4,222) rotate(-61)">
<path d="M-9,-9 A4.05,9 0 0 0 -9,9 L6,9 A4.05,9 0 0 0 6,-9 Z" fill="#fff" stroke="#151515" stroke-width="1.5"/>
<path d="M6,-9 A4,9 0 0 1 6,9" fill="none" stroke="#151515" stroke-width="1.2" stroke-linejoin="round" stroke-linecap="round"/>
</g>
<path d="M404,240 L412.4,238.3 L414,230 L407,232 Z" fill="#fff" stroke="#151515" stroke-width="1.5" stroke-linejoin="round" stroke-linecap="round"/>
<ellipse cx="398.8" cy="234.2" rx="7.8" ry="5.3" fill="#fff" stroke="#151515" stroke-width="1.25"/>
<ellipse cx="398.6" cy="233.4" rx="4.3" ry="2.3" fill="none" stroke="#151515" stroke-width="1.1"/>
<path d="M483,59 L483,78.5 Q486.5,80.8 490,78.5 L490,59" fill="#fff" stroke="#151515" stroke-width="1.4" stroke-linejoin="round" stroke-linecap="round"/>
<path d="M483,71.3 Q486.5,73 490,71.3 M483,74.8 Q486.5,76.5 490,74.8" fill="none" stroke="#151515" stroke-width="1.0" stroke-linejoin="round" stroke-linecap="round"/>
<path d="M480.1,54 Q480,49.3 486.4,49.3 Q492.8,49.3 492.7,54 L492.5,57.5 Q490,59.7 486.4,59.7 Q482,59.7 480.2,57.5 Z" fill="#fff" stroke="#151515" stroke-width="1.4" stroke-linejoin="round" stroke-linecap="round"/>
<ellipse cx="486.4" cy="54.3" rx="5.8" ry="2.8" fill="none" stroke="#151515" stroke-width="1.0"/>
<path d="M482.8,56.5 L483,59.3 M490,56.5 L489.8,59.3" fill="none" stroke="#151515" stroke-width="0.9" stroke-linejoin="round" stroke-linecap="round"/>
<path d="M353,263.8 L369,259.2 L372,265 L355.5,270.5 Z" fill="#fff" stroke="#151515" stroke-width="1.3" stroke-linejoin="round" stroke-linecap="round"/>
<ellipse cx="370.6" cy="262.1" rx="1.9" ry="3.1" fill="#fff" stroke="#151515" stroke-width="1.2" transform="rotate(-20 370.6 262.1)"/>
<path d="M361.5,261.8 L363.5,267.8 M364.5,261 L366.5,267 M367,260.3 L369,266.2" fill="none" stroke="#151515" stroke-width="0.9" stroke-linejoin="round" stroke-linecap="round"/>
<path d="M343.5,265 L347,262.3 L352.5,262.8 L355,268.3 L353.5,274 L348,275.5 L344,272.5 Z" fill="#fff" stroke="#151515" stroke-width="1.4" stroke-linejoin="round" stroke-linecap="round"/>
<path d="M347,262.3 L349,268.5 L348,275.5 M349,268.5 L355,268.3" fill="none" stroke="#151515" stroke-width="0.9" stroke-linejoin="round" stroke-linecap="round"/>
<polygon points="494.2,167.3 490.25,172.01 482.35,172.01 478.4,167.3 478.4,170.8 482.35,175.51 490.25,175.51 494.2,170.8" fill="#fff" stroke="#151515" stroke-width="1.5" stroke-linejoin="round"/>
<line x1="490.25" y1="172.01" x2="490.25" y2="175.51" stroke="#151515" stroke-width="1.2000000000000002"/>
<line x1="482.35" y1="172.01" x2="482.35" y2="175.51" stroke="#151515" stroke-width="1.2000000000000002"/>
<polygon points="494.2,167.3 490.25,172.01 482.35,172.01 478.4,167.3 482.35,162.59 490.25,162.59" fill="#fff" stroke="#151515" stroke-width="1.5" stroke-linejoin="round"/>
<ellipse cx="486.3" cy="167.3" rx="4.11" ry="3.19" fill="#fff" stroke="#151515" stroke-width="1.35"/>
<polygon points="461.28,239.03 454.19,241.98 448.41,236.44 449.72,227.97 456.81,225.02 462.59,230.56" fill="#fff" stroke="#151515" stroke-width="1.5" stroke-linejoin="round"/>
<ellipse cx="454.7" cy="233.8" rx="4.51" ry="6.4" fill="#fff" stroke="#151515" stroke-width="1.2000000000000002" transform="rotate(-20 454.7 233.8)"/>
<ellipse cx="454.5" cy="233.8" rx="2.21" ry="3.69" fill="none" stroke="#151515" stroke-width="1.125" transform="rotate(-20 454.5 233.8)"/>
<path d="M459.19,226.94 L460.42,239.65" stroke="#151515" stroke-width="1.0499999999999998" fill="none"/>
<polygon points="190.59,389.16 182.84,392.79 176.25,386.83 177.41,377.24 185.16,373.61 191.75,379.57" fill="#fff" stroke="#151515" stroke-width="1.5" stroke-linejoin="round"/>
<ellipse cx="183.2" cy="383.5" rx="4.84" ry="6.86" fill="#fff" stroke="#151515" stroke-width="1.2000000000000002" transform="rotate(-20 183.2 383.5)"/>
<ellipse cx="183" cy="383.5" rx="2.38" ry="3.96" fill="none" stroke="#151515" stroke-width="1.125" transform="rotate(-20 183 383.5)"/>
<path d="M187.96,376.16 L189.28,389.8" stroke="#151515" stroke-width="1.0499999999999998" fill="none"/>
<polygon points="347.39,496.23 339.28,500.02 332.4,493.79 333.61,483.77 341.72,479.98 348.6,486.21" fill="#fff" stroke="#151515" stroke-width="1.5" stroke-linejoin="round"/>
<ellipse cx="339.7" cy="490.3" rx="5.06" ry="7.18" fill="#fff" stroke="#151515" stroke-width="1.2000000000000002" transform="rotate(-20 339.7 490.3)"/>
<ellipse cx="339.5" cy="490.3" rx="2.48" ry="4.14" fill="none" stroke="#151515" stroke-width="1.125" transform="rotate(-20 339.5 490.3)"/>
<path d="M344.64,482.64 L346.02,496.9" stroke="#151515" stroke-width="1.0499999999999998" fill="none"/>
<ellipse cx="207.2" cy="374.8" rx="6.6" ry="8.8" fill="#fff" stroke="#151515" stroke-width="1.7" transform="rotate(-18 207.2 374.8)"/>
<ellipse cx="207.4" cy="374.8" rx="3.3" ry="5.1" fill="none" stroke="#151515" stroke-width="1.5" transform="rotate(-18 207.4 374.8)"/>
<ellipse cx="364.8" cy="481.9" rx="6.6" ry="8.8" fill="#fff" stroke="#151515" stroke-width="1.7" transform="rotate(-18 364.8 481.9)"/>
<ellipse cx="365" cy="481.9" rx="3.3" ry="5.1" fill="none" stroke="#151515" stroke-width="1.5" transform="rotate(-18 365 481.9)"/>
<path d="M527,401 Q529,395 538,395 Q547,396 549,403 L548,410 Q546,416 537,416 Q528,415 527,408 Z" fill="url(#st2)" stroke="#151515" stroke-width="1.4" stroke-linejoin="round" stroke-linecap="round"/>
<ellipse cx="538" cy="401.5" rx="10.2" ry="6" fill="url(#st2)" stroke="#151515" stroke-width="1.3" transform="rotate(12 538 401.5)"/>
<ellipse cx="538" cy="401" rx="5" ry="2.8" fill="#fff" stroke="#151515" stroke-width="1.2" transform="rotate(12 538 401)"/>
<path d="M527.3,405 Q535,411 548.5,407 M527.5,408.5 Q536,414.5 548,410.5" fill="none" stroke="#151515" stroke-width="1.0" stroke-linejoin="round" stroke-linecap="round"/>
<path d="M265,492.5 Q266,488.5 270,487.5 L282.5,485.5 Q287,485.5 286.8,489.5 L284.5,502.5 Q283.5,506 279.5,506.5 L270.5,507.8 Q266,508 265,504 Z" fill="#fff" stroke="#151515" stroke-width="1.5" stroke-linejoin="round" stroke-linecap="round"/>
<path d="M270,487.8 Q272.5,489 272,493 L271.5,507.5" fill="none" stroke="#151515" stroke-width="1.1" stroke-linejoin="round" stroke-linecap="round"/>
<ellipse cx="278.3" cy="497" rx="4.6" ry="6" fill="none" stroke="#151515" stroke-width="1.3" transform="rotate(15 278.3 497)"/>
<ellipse cx="278.5" cy="497.3" rx="2.3" ry="3.6" fill="none" stroke="#151515" stroke-width="1.0" transform="rotate(15 278.5 497.3)"/>
<g transform="translate(0,0)">
<path d="M240.4,366.7 L230.3,370.3 Q219,375 215,386 Q211,398 218,402 Q225,406 238.3,401.6 L244.4,400 L246.4,397.5 L244.4,396.5 L238.3,394.5 Q228,397 223.5,397 Q220,392 221,387 Q225,379 235.3,375.3 L248.4,371.8" fill="#fff" stroke="#151515" stroke-width="1.5" stroke-linejoin="round" stroke-linecap="round"/>
<path d="M240.4,354.6 L248.9,359.1 L248.4,371.8 L240.4,367.2 Z" fill="#fff" stroke="#151515" stroke-width="1.5" stroke-linejoin="round" stroke-linecap="round"/>
<path d="M239.3,401.6 L246.4,397.5 L248.4,411.7 L240.4,408.6 Z" fill="#fff" stroke="#151515" stroke-width="1.5" stroke-linejoin="round" stroke-linecap="round"/>
<path d="M245.8,361.2 Q243.2,361 243.3,363.5 Q243.5,366 246,365.5" fill="none" stroke="#151515" stroke-width="0.9" stroke-linejoin="round" stroke-linecap="round"/>
<path d="M245.3,403.5 Q242.7,403.3 242.8,405.8 Q243,408.3 245.5,407.8" fill="none" stroke="#151515" stroke-width="0.9" stroke-linejoin="round" stroke-linecap="round"/>
<path d="M241,368.5 L246,371 M219,399 Q215,392 219,384" fill="none" stroke="#151515" stroke-width="0.8" stroke-linejoin="round" stroke-linecap="round"/>
</g>
<g transform="translate(161,105)">
<path d="M240.4,366.7 L230.3,370.3 Q219,375 215,386 Q211,398 218,402 Q225,406 238.3,401.6 L244.4,400 L246.4,397.5 L244.4,396.5 L238.3,394.5 Q228,397 223.5,397 Q220,392 221,387 Q225,379 235.3,375.3 L248.4,371.8" fill="#fff" stroke="#151515" stroke-width="1.5" stroke-linejoin="round" stroke-linecap="round"/>
<path d="M240.4,354.6 L248.9,359.1 L248.4,371.8 L240.4,367.2 Z" fill="#fff" stroke="#151515" stroke-width="1.5" stroke-linejoin="round" stroke-linecap="round"/>
<path d="M239.3,401.6 L246.4,397.5 L248.4,411.7 L240.4,408.6 Z" fill="#fff" stroke="#151515" stroke-width="1.5" stroke-linejoin="round" stroke-linecap="round"/>
<path d="M245.8,361.2 Q243.2,361 243.3,363.5 Q243.5,366 246,365.5" fill="none" stroke="#151515" stroke-width="0.9" stroke-linejoin="round" stroke-linecap="round"/>
<path d="M245.3,403.5 Q242.7,403.3 242.8,405.8 Q243,408.3 245.5,407.8" fill="none" stroke="#151515" stroke-width="0.9" stroke-linejoin="round" stroke-linecap="round"/>
<path d="M241,368.5 L246,371 M219,399 Q215,392 219,384" fill="none" stroke="#151515" stroke-width="0.8" stroke-linejoin="round" stroke-linecap="round"/>
</g>
<g transform="translate(0,0)">
<path d="M276.6,351.5 Q282,347 289.6,346.3 L294.8,349.3 L302.2,353.6 L302.2,361.5 L295.5,362 Q288,363.5 286,369 Q285,375.5 290,377.5 L302,375.8 L302,380 L283.6,387.5 L279.2,387 Q271,384 268,374 Q266,362 276.6,351.5 Z" fill="url(#st2)" stroke="#151515" stroke-width="1.4" stroke-linejoin="round" stroke-linecap="round"/>
<path d="M294.8,349.3 Q283,350.5 277,358 Q271,366 272,376 Q274,383 279.2,387" fill="none" stroke="#151515" stroke-width="1.1" stroke-linejoin="round" stroke-linecap="round"/>
<path d="M302.2,353.6 Q291,352 284,357 Q277.5,363 277,372 Q277,381 283.6,387.5" fill="none" stroke="#151515" stroke-width="1.1" stroke-linejoin="round" stroke-linecap="round"/>
<path d="M299,354.5 Q289,355 284,361 Q280,367 280.5,375 Q281.5,382 286,386.3" fill="none" stroke="#151515" stroke-width="0.8" stroke-linejoin="round" stroke-linecap="round"/>
<path d="M295.5,362 L296,358 L302.2,357.5 M290,377.5 L290.5,381 L302,379" fill="none" stroke="#151515" stroke-width="0.9" stroke-linejoin="round" stroke-linecap="round"/>
<path d="M288.5,366 Q291.5,364.5 296.5,365.5 M287.8,372 Q292,371 298,372" fill="none" stroke="#151515" stroke-width="0.7" stroke-linejoin="round" stroke-linecap="round"/>
</g>
<g transform="translate(164,103)">
<path d="M276.6,351.5 Q282,347 289.6,346.3 L294.8,349.3 L302.2,353.6 L302.2,361.5 L295.5,362 Q288,363.5 286,369 Q285,375.5 290,377.5 L302,375.8 L302,380 L283.6,387.5 L279.2,387 Q271,384 268,374 Q266,362 276.6,351.5 Z" fill="url(#st2)" stroke="#151515" stroke-width="1.4" stroke-linejoin="round" stroke-linecap="round"/>
<path d="M294.8,349.3 Q283,350.5 277,358 Q271,366 272,376 Q274,383 279.2,387" fill="none" stroke="#151515" stroke-width="1.1" stroke-linejoin="round" stroke-linecap="round"/>
<path d="M302.2,353.6 Q291,352 284,357 Q277.5,363 277,372 Q277,381 283.6,387.5" fill="none" stroke="#151515" stroke-width="1.1" stroke-linejoin="round" stroke-linecap="round"/>
<path d="M299,354.5 Q289,355 284,361 Q280,367 280.5,375 Q281.5,382 286,386.3" fill="none" stroke="#151515" stroke-width="0.8" stroke-linejoin="round" stroke-linecap="round"/>
<path d="M295.5,362 L296,358 L302.2,357.5 M290,377.5 L290.5,381 L302,379" fill="none" stroke="#151515" stroke-width="0.9" stroke-linejoin="round" stroke-linecap="round"/>
<path d="M288.5,366 Q291.5,364.5 296.5,365.5 M287.8,372 Q292,371 298,372" fill="none" stroke="#151515" stroke-width="0.7" stroke-linejoin="round" stroke-linecap="round"/>
</g>
<path d="M352.9,540 L507,637.5 L501,644.5 L349.6,547.8 Z" fill="#fff" stroke="#151515" stroke-width="1.5" stroke-linejoin="round" stroke-linecap="round"/>
<g transform="translate(323.5,527.5) rotate(30)">
<path d="M-6,3 L8,3 L8,-3 L-6,-3 Z" fill="#fff" stroke="#151515" stroke-width="1.2" stroke-linejoin="round" stroke-linecap="round"/>
<path d="M-25.5,-10 A4.5,10 0 0 0 -25.5,10 L0,10 A4.5,10 0 0 0 0,-10 Z" fill="#fff" stroke="#151515" stroke-width="1.5"/>
<path d="M0,-10 A4.5,10 0 0 0 0,10" fill="none" stroke="#151515" stroke-width="1.5"/>
<ellipse cx="0.5" cy="0.5" rx="3.4" ry="6.2" fill="none" stroke="#151515" stroke-width="1.1"/>
<path d="M-24.5,-7.5 L-22,-8 L-21.5,-5 L-24,-4.5" fill="none" stroke="#151515" stroke-width="0.9" stroke-linejoin="round" stroke-linecap="round"/>
</g>
<ellipse cx="335.5" cy="538" rx="6.5" ry="11" fill="#fff" stroke="#151515" stroke-width="1.5" transform="rotate(30 335.5 538)"/>
<ellipse cx="339" cy="540" rx="6.5" ry="11" fill="#fff" stroke="#151515" stroke-width="1.5" transform="rotate(30 339 540)"/>
<ellipse cx="342.5" cy="542" rx="6.5" ry="11" fill="#fff" stroke="#151515" stroke-width="1.5" transform="rotate(30 342.5 542)"/>
<ellipse cx="348.5" cy="545.5" rx="6.5" ry="11.5" fill="#fff" stroke="#151515" stroke-width="1.5" transform="rotate(30 348.5 545.5)"/>
<path d="M345,546 L350,540 L354,543 L351,550" fill="#fff" stroke="#151515" stroke-width="1.1" stroke-linejoin="round" stroke-linecap="round"/>
<path d="M527,645 L551.7,659.5 Q560,657.5 565.5,662 Q568.5,666 567,671 L567.2,676 Q566,681.5 557,682.3 Q548,682.3 544,677 L543.3,672.1 L520.8,656.7 Z" fill="#fff" stroke="#151515" stroke-width="1.5" stroke-linejoin="round" stroke-linecap="round"/>
<path d="M499.8,637 L504.5,634 L508.5,637.5 L505.5,644.5 L501,644 Z" fill="#fff" stroke="#151515" stroke-width="1.2" stroke-linejoin="round" stroke-linecap="round"/>
<path d="M502.3,636 L503.8,643 M505.3,635.2 L506.8,642" fill="none" stroke="#151515" stroke-width="0.8" stroke-linejoin="round" stroke-linecap="round"/>
<path d="M508,640 L511,636.5 L518,637.5 L521.5,643 L519.5,651.5 L512.5,653 L508.5,648 Z" fill="#fff" stroke="#151515" stroke-width="1.5" stroke-linejoin="round" stroke-linecap="round"/>
<path d="M511,636.5 L512,645.5 L512.5,653 M518,637.5 L516.5,646.5 M512,645.5 L516.5,646.5 L519.5,651.5" fill="none" stroke="#151515" stroke-width="0.85" stroke-linejoin="round" stroke-linecap="round"/>
<path d="M519,642 L530,646.5 L526,658 L516,653.5 Z" fill="#fff" stroke="#151515" stroke-width="1.2" stroke-linejoin="round" stroke-linecap="round"/>
<path d="M521.5,643 L518.5,654.5 M524.5,644.2 L521.5,655.8 M527.5,645.4 L524.5,657" fill="none" stroke="#151515" stroke-width="0.95" stroke-linejoin="round" stroke-linecap="round"/>
<path d="M533.5,650 L536,648 L537,651.5" fill="none" stroke="#151515" stroke-width="0.9" stroke-linejoin="round" stroke-linecap="round"/>
<ellipse cx="556.6" cy="665.8" rx="9" ry="6.3" fill="#fff" stroke="#151515" stroke-width="1.35" transform="rotate(8 556.6 665.8)"/>
<ellipse cx="556.6" cy="665.4" rx="4.9" ry="3.2" fill="none" stroke="#151515" stroke-width="1.15" transform="rotate(8 556.6 665.4)"/>
<path d="M544,672 Q546.5,680.5 556.5,681.2 Q566,680.8 567.2,673" fill="none" stroke="#151515" stroke-width="1.1" stroke-linejoin="round" stroke-linecap="round"/>
<path d="M549.5,682 L549.5,693 M559.5,682 L559.5,693" fill="none" stroke="#151515" stroke-width="1.3" stroke-linejoin="round" stroke-linecap="round"/>
<path d="M549.5,685.5 L559.5,685.5 M549.5,689 L559.5,689 M549.5,692.5 L559.5,692.5" fill="none" stroke="#151515" stroke-width="0.95" stroke-linejoin="round" stroke-linecap="round"/>
<polyline points="286.4,74.6 286.4,90" fill="none" stroke="#151515" stroke-width="1.3"/>
<polyline points="387,86 387,99" fill="none" stroke="#151515" stroke-width="1.3"/>
<polyline points="494.2,66.5 567,69.5" fill="none" stroke="#151515" stroke-width="1.3"/>
<polyline points="498,109.5 566.5,112.4" fill="none" stroke="#151515" stroke-width="1.3"/>
<polyline points="498,169.2 567,171.5" fill="none" stroke="#151515" stroke-width="1.3"/>
<polyline points="466.4,231 524,232.8" fill="none" stroke="#151515" stroke-width="1.3"/>
<polyline points="255.5,193.8 316.5,195.2" fill="none" stroke="#151515" stroke-width="1.3"/>
<polyline points="162.9,210.3 162.9,221.7" fill="none" stroke="#151515" stroke-width="1.3"/>
<polyline points="215,234.3 215,243.5" fill="none" stroke="#151515" stroke-width="1.3"/>
<polyline points="322,267 339,267.5" fill="none" stroke="#151515" stroke-width="1.3"/>
<polyline points="273.5,280 273.5,290" fill="none" stroke="#151515" stroke-width="1.3"/>
<polyline points="182.5,353.4 182.5,373" fill="none" stroke="#151515" stroke-width="1.3"/>
<polyline points="205.8,346.3 205.8,364.5" fill="none" stroke="#151515" stroke-width="1.3"/>
<polyline points="233.6,338 233.6,367" fill="none" stroke="#151515" stroke-width="1.3"/>
<polyline points="303.3,382.9 330,397" fill="none" stroke="#151515" stroke-width="1.3"/>
<polyline points="477,389.4 477,401 521.3,403.3" fill="none" stroke="#151515" stroke-width="1.3"/>
<polyline points="339.8,459.4 339.8,479.5" fill="none" stroke="#151515" stroke-width="1.3"/>
<polyline points="365,448.6 365,470.3" fill="none" stroke="#151515" stroke-width="1.3"/>
<polyline points="392.3,441 390.8,475" fill="none" stroke="#151515" stroke-width="1.3"/>
<polyline points="468.3,486.7 499.8,504.7" fill="none" stroke="#151515" stroke-width="1.3"/>
<polyline points="586.3,468.3 586.3,478" fill="none" stroke="#151515" stroke-width="1.3"/>
<polyline points="599.2,549.5 599.2,561" fill="none" stroke="#151515" stroke-width="1.3"/>
<polyline points="651.4,593.7 651.4,582.5 662.5,576" fill="none" stroke="#151515" stroke-width="1.3"/>
<polyline points="271.3,511.5 270.3,577.4" fill="none" stroke="#151515" stroke-width="1.3"/>
<polyline points="446.3,661 446.3,656.7 509,650.7" fill="none" stroke="#151515" stroke-width="1.3"/>
<polyline points="487.6,685.4 487.6,683 543.7,678.2" fill="none" stroke="#151515" stroke-width="1.3"/>
<polyline points="439.2,377 439.2,368.4 496,369.2 496,378" fill="none" stroke="#151515" stroke-width="1.3"/>
<polyline points="449.3,374.2 446.8,408.4" fill="none" stroke="#151515" stroke-width="1.3"/>
<polyline points="379,571 379,636" fill="none" stroke="#151515" stroke-width="1.3"/>
<polyline points="366.5,627 367,634.5 461.3,693" fill="none" stroke="#151515" stroke-width="1.3"/>
<polyline points="410,661.5 461.3,693" fill="none" stroke="#151515" stroke-width="1.3"/>
<polyline points="390,273.6 391.6,283 545.3,383 541.6,397" fill="none" stroke="#151515" stroke-width="1.35" stroke-dasharray="25,4,1.6,4"/>
<polyline points="535,416 531.4,422" fill="none" stroke="#151515" stroke-width="1.1"/>
<polyline points="223.9,422.4 222.4,462.5 262.5,487.3" fill="none" stroke="#151515" stroke-width="1.35" stroke-dasharray="25,4,1.6,4"/>
<polyline points="256,420 312,454" fill="none" stroke="#151515" stroke-width="1.35" stroke-dasharray="25,4,1.6,4"/>
<polyline points="430,529.5 676,679.5" fill="none" stroke="#151515" stroke-width="1.4" stroke-dasharray="25,4,1.6,4"/>
<polyline points="678.3,568.8 678.3,678.3" fill="none" stroke="#151515" stroke-width="1.35" stroke-dasharray="25,4,1.6,4"/>
<polygon points="446.5,493 427.9,516 437.5,518.2 423.4,565.4 434,568.8 447,520.4 453.3,521.6" fill="#ee1c1c"/>
<ellipse cx="285" cy="101" rx="11" ry="11" fill="#fff" stroke="#d2643a" stroke-width="1.15"/>
<text transform="translate(285,105.4) scale(0.9,1)" text-anchor="middle" font-size="12.3" stroke="#111" stroke-width="0.42" letter-spacing="0.6">21</text>
<ellipse cx="389.5" cy="78" rx="12" ry="11" fill="#fff" stroke="#d2643a" stroke-width="1.15"/>
<text transform="translate(389.5,82.4) scale(0.9,1)" text-anchor="middle" font-size="12.3" stroke="#111" stroke-width="0.42" letter-spacing="0.6">5A</text>
<ellipse cx="577.9" cy="69.4" rx="10.8" ry="10.5" fill="#fff" stroke="#d2643a" stroke-width="1.15"/>
<text transform="translate(577.9,73.80000000000001) scale(0.9,1)" text-anchor="middle" font-size="12.3" stroke="#111" stroke-width="0.42" letter-spacing="0.6">19</text>
<ellipse cx="577" cy="111.8" rx="10.8" ry="10.5" fill="#fff" stroke="#d2643a" stroke-width="1.15"/>
<text transform="translate(577,116.2) scale(0.9,1)" text-anchor="middle" font-size="12.3" stroke="#111" stroke-width="0.42" letter-spacing="0.6">18</text>
<ellipse cx="573.5" cy="171.3" rx="12" ry="11" fill="#fff" stroke="#d2643a" stroke-width="1.15"/>
<text transform="translate(573.5,175.70000000000002) scale(0.9,1)" text-anchor="middle" font-size="12.3" stroke="#111" stroke-width="0.42" letter-spacing="0.6">20</text>
<ellipse cx="531.3" cy="232.8" rx="12" ry="11" fill="#fff" stroke="#d2643a" stroke-width="1.15"/>
<text transform="translate(531.3,237.20000000000002) scale(0.9,1)" text-anchor="middle" font-size="12.3" stroke="#111" stroke-width="0.42" letter-spacing="0.6">20</text>
<ellipse cx="247" cy="194" rx="9" ry="9.8" fill="#fff" stroke="#d2643a" stroke-width="1.15"/>
<text transform="translate(247,198.4) scale(0.9,1)" text-anchor="middle" font-size="12.3" stroke="#111" stroke-width="0.42" letter-spacing="0.6">5</text>
<ellipse cx="168.4" cy="199.7" rx="16" ry="11" fill="#fff" stroke="#d2643a" stroke-width="1.15"/>
<text transform="translate(168.4,204.1) scale(0.9,1)" text-anchor="middle" font-size="12.3" stroke="#111" stroke-width="0.42" letter-spacing="0.6">13A</text>
<ellipse cx="215" cy="223.6" rx="12" ry="11" fill="#fff" stroke="#d2643a" stroke-width="1.15"/>
<text transform="translate(215,228.0) scale(0.9,1)" text-anchor="middle" font-size="12.3" stroke="#111" stroke-width="0.42" letter-spacing="0.6">12</text>
<ellipse cx="310" cy="266.5" rx="11.5" ry="11" fill="#fff" stroke="#d2643a" stroke-width="1.15"/>
<text transform="translate(310,270.9) scale(0.9,1)" text-anchor="middle" font-size="12.3" stroke="#111" stroke-width="0.42" letter-spacing="0.6">19</text>
<ellipse cx="274" cy="269" rx="10.7" ry="10.7" fill="#fff" stroke="#d2643a" stroke-width="1.15"/>
<text transform="translate(274,273.4) scale(0.9,1)" text-anchor="middle" font-size="12.3" stroke="#111" stroke-width="0.42" letter-spacing="0.6">13</text>
<ellipse cx="182.5" cy="343.5" rx="9.5" ry="10" fill="#fff" stroke="#d2643a" stroke-width="1.15"/>
<text transform="translate(182.5,347.9) scale(0.9,1)" text-anchor="middle" font-size="12.3" stroke="#111" stroke-width="0.42" letter-spacing="0.6">2</text>
<ellipse cx="205.8" cy="336" rx="9" ry="10.5" fill="#fff" stroke="#d2643a" stroke-width="1.15"/>
<text transform="translate(205.8,340.4) scale(0.9,1)" text-anchor="middle" font-size="12.3" stroke="#111" stroke-width="0.42" letter-spacing="0.6">3</text>
<ellipse cx="233.6" cy="328.1" rx="11" ry="10" fill="#fff" stroke="#d2643a" stroke-width="1.15"/>
<text transform="translate(233.6,332.5) scale(0.9,1)" text-anchor="middle" font-size="12.3" stroke="#111" stroke-width="0.42" letter-spacing="0.6">15</text>
<ellipse cx="339" cy="402.5" rx="10.5" ry="10.5" fill="#fff" stroke="#d2643a" stroke-width="1.15"/>
<text transform="translate(339,406.9) scale(0.9,1)" text-anchor="middle" font-size="12.3" stroke="#111" stroke-width="0.42" letter-spacing="0.6">17</text>
<ellipse cx="471.5" cy="356.5" rx="9" ry="10.5" fill="#fff" stroke="#d2643a" stroke-width="1.15"/>
<text transform="translate(471.5,360.9) scale(0.9,1)" text-anchor="middle" font-size="12.3" stroke="#111" stroke-width="0.42" letter-spacing="0.6">1</text>
<ellipse cx="477" cy="380.6" rx="9" ry="10" fill="#fff" stroke="#d2643a" stroke-width="1.15"/>
<text transform="translate(477,385.0) scale(0.9,1)" text-anchor="middle" font-size="12.3" stroke="#111" stroke-width="0.42" letter-spacing="0.6">4</text>
<ellipse cx="339.8" cy="448" rx="9.6" ry="11" fill="#fff" stroke="#d2643a" stroke-width="1.15"/>
<text transform="translate(339.8,452.4) scale(0.9,1)" text-anchor="middle" font-size="12.3" stroke="#111" stroke-width="0.42" letter-spacing="0.6">2</text>
<ellipse cx="365" cy="438.4" rx="8.8" ry="10.4" fill="#fff" stroke="#d2643a" stroke-width="1.15"/>
<text transform="translate(365,442.79999999999995) scale(0.9,1)" text-anchor="middle" font-size="12.3" stroke="#111" stroke-width="0.42" letter-spacing="0.6">3</text>
<ellipse cx="392.3" cy="431.3" rx="11.6" ry="10.8" fill="#fff" stroke="#d2643a" stroke-width="1.15"/>
<text transform="translate(392.3,435.7) scale(0.9,1)" text-anchor="middle" font-size="12.3" stroke="#111" stroke-width="0.42" letter-spacing="0.6">15</text>
<ellipse cx="508.4" cy="509.8" rx="11" ry="10.7" fill="#fff" stroke="#d2643a" stroke-width="1.15"/>
<text transform="translate(508.4,514.2) scale(0.9,1)" text-anchor="middle" font-size="12.3" stroke="#111" stroke-width="0.42" letter-spacing="0.6">16</text>
<ellipse cx="588.9" cy="457.1" rx="16.5" ry="11" fill="#fff" stroke="#d2643a" stroke-width="1.15"/>
<text transform="translate(588.9,461.5) scale(0.9,1)" text-anchor="middle" font-size="12.3" stroke="#111" stroke-width="0.42" letter-spacing="0.6">11A</text>
<ellipse cx="597.8" cy="572" rx="10.8" ry="11" fill="#fff" stroke="#d2643a" stroke-width="1.15"/>
<text transform="translate(597.8,576.4) scale(0.9,1)" text-anchor="middle" font-size="12.3" stroke="#111" stroke-width="0.42" letter-spacing="0.6">11</text>
<ellipse cx="654" cy="604" rx="16.3" ry="11" fill="#fff" stroke="#d2643a" stroke-width="1.15"/>
<text transform="translate(654,608.4) scale(0.9,1)" text-anchor="middle" font-size="12.3" stroke="#111" stroke-width="0.42" letter-spacing="0.6">13A</text>
<ellipse cx="269.3" cy="588.6" rx="11.3" ry="11" fill="#fff" stroke="#d2643a" stroke-width="1.15"/>
<text transform="translate(269.3,593.0) scale(0.9,1)" text-anchor="middle" font-size="12.3" stroke="#111" stroke-width="0.42" letter-spacing="0.6">14</text>
<ellipse cx="446.3" cy="671.8" rx="11" ry="10.7" fill="#fff" stroke="#d2643a" stroke-width="1.15"/>
<text transform="translate(446.3,676.1999999999999) scale(0.9,1)" text-anchor="middle" font-size="12.3" stroke="#111" stroke-width="0.42" letter-spacing="0.6">10</text>
<ellipse cx="435.8" cy="689.5" rx="9.5" ry="10" fill="#fff" stroke="#d2643a" stroke-width="1.15"/>
<text transform="translate(435.8,693.9) scale(0.9,1)" text-anchor="middle" font-size="12.3" stroke="#111" stroke-width="0.42" letter-spacing="0.6">6</text>
<ellipse cx="487.6" cy="697.5" rx="10" ry="10" fill="#fff" stroke="#d2643a" stroke-width="1.15"/>
<text transform="translate(487.6,701.9) scale(0.9,1)" text-anchor="middle" font-size="12.3" stroke="#111" stroke-width="0.42" letter-spacing="0.6">7</text>
<polyline points="561,171.4 567.5,171.6" fill="none" stroke="#151515" stroke-width="1.3"/>
<polyline points="519.3,232.7 524.5,232.8" fill="none" stroke="#151515" stroke-width="1.3"/>
</svg></body></html>
